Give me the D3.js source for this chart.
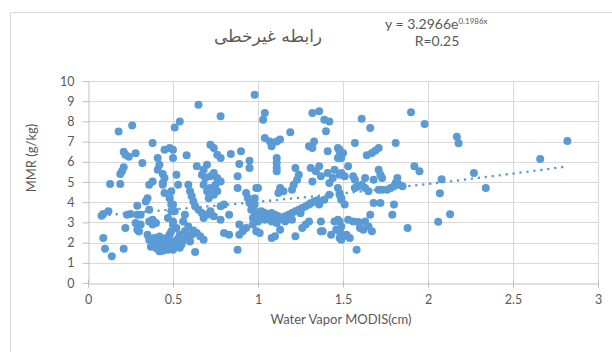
<!DOCTYPE html>
<html>
<head>
<meta charset="utf-8">
<script src="https://cdn.jsdelivr.net/npm/d3@7"></script>
<style>
  body { margin: 0; background: #fff; }
  svg text { fill: #595959; font-family: Lato, "Open Sans", sans-serif; }
</style>
</head>
<body>
<svg id="chart" width="612" height="352"></svg>
<script>
var xTicks = [0, 0.5, 1, 1.5, 2, 2.5, 3];
var yTicks = [0, 1, 2, 3, 4, 5, 6, 7, 8, 9, 10];
var titleText = "رابطه غیرخطی";
var xTitle = "Water Vapor MODIS(cm)";
var yTitle = "MMR (g/kg)";
// exponential trendline shown on the chart
var trendA = 3.2966, trendB = 0.1986;
var trendLabel = "y = 3.2966e", trendPow = "0.1986x", rLabel = "R=0.25";

// [water vapor, mmr]
var samples = [
  // 0 - 0.5
  [0.09,3.42],[0.12,3.55],[0.08,3.33],[0.09,2.23],[0.10,1.70],[0.14,1.32],[0.21,1.70],
  [0.13,4.90],[0.19,4.90],[0.18,7.50],[0.26,7.80],[0.21,6.50],[0.22,6.35],[0.24,6.25],[0.28,6.42],[0.32,5.94],
  [0.21,5.73],[0.20,5.53],[0.19,5.40],[0.38,6.93],[0.38,5.03],[0.36,4.87],
  [0.41,6.19],[0.42,5.86],[0.41,5.61],[0.45,6.60],[0.48,6.68],[0.44,5.40],[0.44,4.95],
  [0.35,4.20],[0.36,3.63],[0.29,3.83],[0.29,3.38],[0.31,3.38],[0.23,3.38],[0.25,3.42],
  [0.28,2.97],[0.29,2.89],[0.31,2.89],[0.29,2.64],[0.30,2.55],[0.22,2.72],[0.38,2.89],[0.40,2.97],
  [0.36,2.14],[0.38,1.98],[0.40,1.73],[0.42,1.57],[0.44,2.06],[0.46,2.23],[0.48,1.90],[0.50,2.06],
  [0.39,2.23],[0.43,1.82],[0.47,1.65],[0.35,2.39],
  [0.40,2.10],[0.42,2.30],[0.45,1.85],[0.37,1.80],[0.48,2.40],[0.44,1.60],[0.41,1.95],
  [0.49,4.54],[0.48,4.20],[0.50,3.88],[0.49,3.55],[0.47,3.22],[0.50,2.89],[0.49,2.56],[0.45,4.46],
  [0.45,5.20],[0.44,4.87],[0.36,3.05],[0.38,3.13],[0.34,4.04],
  // 0.5 - 1
  [0.65,8.83],[0.78,8.25],[0.98,9.32],[0.51,7.70],[0.54,8.00],
  [0.50,6.60],[0.50,6.19],[0.58,6.32],[0.52,5.36],[0.53,4.87],[0.64,5.78],
  [0.72,6.85],[0.74,6.68],[0.76,6.35],[0.78,6.19],
  [0.70,5.86],[0.68,5.61],[0.67,5.36],[0.69,5.20],[0.72,5.28],[0.74,5.45],[0.76,5.20],[0.78,5.03],
  [0.75,4.87],[0.72,4.70],[0.70,4.54],[0.68,4.87],[0.76,4.54],[0.74,4.37],[0.71,4.20],
  [0.84,6.39],[0.90,6.52],[0.95,6.05],[0.89,5.89],[0.95,5.69],[0.88,5.28],[0.88,4.70],[0.99,4.70],
  [0.59,4.87],[0.60,4.54],[0.61,4.29],[0.62,4.04],[0.63,3.80],[0.65,3.63],[0.67,3.47],[0.68,3.22],
  [0.70,3.38],[0.72,3.55],[0.74,3.30],[0.78,3.13],[0.80,3.88],[0.78,3.80],[0.83,3.38],
  [0.93,4.46],[0.94,4.21],[0.95,3.96],[0.96,3.63],[0.97,3.22],
  [0.89,2.89],[0.93,2.72],[0.91,2.56],[0.80,2.48],[0.83,2.39],[0.89,2.39],[0.88,1.65],[0.63,1.53],
  [0.49,3.88],[0.51,3.55],[0.50,3.05],[0.52,2.72],[0.54,2.39],[0.57,2.56],[0.59,2.80],[0.56,3.05],
  [0.58,2.23],[0.61,2.39],[0.64,2.48],[0.66,2.31],[0.68,2.14],[0.52,1.98],[0.50,1.65],[0.55,1.90],[0.57,3.38],
  [0.53,2.20],[0.56,2.10],[0.60,2.05],[0.54,1.75],[0.62,2.60],
  // 1 - 1.5
  [1.04,8.42],[1.03,8.08],
  [1.04,7.18],[1.07,7.01],[1.08,6.77],[1.11,7.01],[1.13,7.10],[1.19,7.46],
  [1.11,6.19],[1.11,5.94],[1.11,5.69],[1.11,5.53],
  [1.32,8.42],[1.36,8.50],[1.39,8.08],[1.42,8.00],[1.40,7.51],
  [1.33,7.01],[1.30,6.77],[1.32,6.68],[1.41,6.52],[1.47,6.68],[1.48,6.52],[1.47,6.19],
  [1.22,5.69],[1.24,5.36],[1.23,5.11],[1.21,4.87],[1.20,4.62],
  [1.31,5.69],[1.34,5.53],[1.36,5.78],[1.37,5.28],[1.41,5.45],[1.45,5.61],[1.44,5.20],[1.48,5.36],
  [1.32,5.03],[1.42,4.95],[1.00,4.70],[1.13,4.70],[1.12,4.46],[1.15,4.54],
  [1.47,4.70],[1.48,4.46],[1.49,4.21],[1.42,4.37],[1.39,4.12],[1.36,3.88],
  [1.33,4.04],[1.30,3.88],[1.28,3.80],[1.26,3.71],[1.24,3.63],[1.22,3.55],[1.20,3.47],[1.18,3.38],
  [1.16,3.30],[1.14,3.22],[1.12,3.30],[1.10,3.38],[1.08,3.47],[1.06,3.38],[1.04,3.47],[1.02,3.55],
  [1.00,3.38],[0.98,3.30],[0.98,3.55],
  [1.00,3.05],[1.04,3.13],[1.08,3.05],[1.11,2.97],[1.16,3.05],[1.20,3.13],
  [1.02,3.25],[1.06,3.20],[1.13,3.15],[1.25,3.45],[1.31,3.95],[1.35,4.10],
  [0.99,2.56],[1.01,2.48],[1.08,2.23],[1.10,2.31],[1.13,2.64],[1.22,2.31],
  [1.26,2.72],[1.28,2.89],[1.30,3.05],[1.37,3.05],[1.37,2.56],
  [1.45,3.05],[1.47,3.13],[1.46,2.64],[1.48,2.56],[1.49,2.80],[1.43,2.39],[1.48,2.23],[1.50,2.31],[1.38,2.56],
  [0.98,4.20],[0.98,3.88],[0.98,3.22],[0.97,2.89],
  // 1.5 - 2
  [1.61,8.13],[1.66,7.67],[1.90,8.45],[1.98,7.87],[1.57,6.93],
  [1.64,6.32],[1.67,6.44],[1.69,6.55],[1.71,6.68],[1.81,6.93],
  [1.48,6.60],[1.50,6.44],[1.49,6.19],[1.53,5.78],[1.49,5.45],[1.51,5.28],
  [1.56,5.28],[1.57,5.11],[1.63,5.20],[1.68,5.11],[1.71,5.61],[1.72,5.36],[1.73,5.20],[1.82,5.20],[1.83,4.87],
  [1.57,4.70],[1.59,4.79],[1.61,4.87],[1.63,4.70],[1.65,4.54],
  [1.71,4.62],[1.73,4.62],[1.76,4.62],[1.78,4.70],[1.80,4.79],[1.85,4.79],[1.81,4.95],
  [1.92,5.78],[1.95,5.53],[1.48,4.37],[1.49,4.12],[1.51,3.88],
  [1.68,3.96],[1.72,3.96],[1.80,3.88],[1.79,3.38],
  [1.48,3.05],[1.53,3.13],[1.56,3.05],[1.59,3.02],
  [1.66,3.38],[1.63,3.05],[1.60,2.72],[1.62,2.64],[1.65,2.80],[1.67,2.56],
  [1.48,2.56],[1.50,2.31],[1.52,2.39],[1.54,2.23],[1.49,2.14],[1.58,1.65],[1.88,2.72],
  // 2 - 3
  [2.17,7.24],[2.18,6.92],[2.08,5.13],[2.07,4.44],[2.06,3.03],[2.13,3.40],
  [2.27,5.45],[2.34,4.70],[2.66,6.14],[2.82,7.03]
];

var svg = d3.select("#chart");
var x = d3.scaleLinear().domain([0, 3]).range([88, 598]);
var y = d3.scaleLinear().domain([0, 10]).range([283, 81]);

// outer chart frame
svg.append("rect")
  .attr("x", 10.5).attr("y", 12.5)
  .attr("width", 640).attr("height", 400)
  .attr("fill", "#fff")
  .attr("stroke", "#d9d9d9");

// gridlines
svg.append("g").selectAll("line.h")
  .data(yTicks.slice(1))
  .join("line")
  .attr("x1", x(0)).attr("x2", x(3))
  .attr("y1", function(d) { return Math.round(y(d)) + 0.5; })
  .attr("y2", function(d) { return Math.round(y(d)) + 0.5; })
  .attr("stroke", "#d9d9d9");

svg.append("g").selectAll("line.v")
  .data(xTicks.slice(1))
  .join("line")
  .attr("x1", function(d) { return Math.round(x(d)) + 0.5; })
  .attr("x2", function(d) { return Math.round(x(d)) + 0.5; })
  .attr("y1", y(0)).attr("y2", y(10))
  .attr("stroke", "#d9d9d9");

// axes
var yAxis = svg.append("g")
  .attr("transform", "translate(" + (x(0) + 0.5) + ",0)")
  .call(d3.axisLeft(y).tickValues(yTicks).tickSize(6).tickPadding(8).tickSizeOuter(0));

var xAxis = svg.append("g")
  .attr("transform", "translate(0," + (Math.round(y(0)) + 0.5) + ")")
  .call(d3.axisBottom(x).tickValues(xTicks).tickFormat(d3.format("")).tickSize(4).tickPadding(8).tickSizeOuter(0));
xAxis.selectAll(".tick line").attr("y1", -4);

[xAxis, yAxis].forEach(function(a) {
  a.select(".domain").attr("stroke", "#bfbfbf");
  a.selectAll(".tick line").attr("stroke", "#bfbfbf");
  a.selectAll(".tick text").style("font-size", "12.5px").attr("fill", "#595959");
});

// trendline
var xs = samples.map(function(d) { return d[0]; });
var xmin = d3.min(xs), xmax = d3.max(xs);
var trend = d3.range(xmin, xmax, 0.02).concat([xmax]).map(function(v) {
  return [v, trendA * Math.exp(trendB * v)];
});

// points
svg.append("g").selectAll("circle")
  .data(samples)
  .join("circle")
  .attr("cx", function(d) { return x(d[0]); })
  .attr("cy", function(d) { return y(d[1]); })
  .attr("r", 4)
  .attr("fill", "#5b9bd5");

svg.append("path")
  .datum(trend)
  .attr("d", d3.line().x(function(d) { return x(d[0]); }).y(function(d) { return y(d[1]); }))
  .attr("fill", "none")
  .attr("stroke", "#5b9bd5")
  .attr("stroke-width", 2.3)
  .attr("stroke-dasharray", "2.3,4.7");

// titles
svg.append("text")
  .attr("x", 268).attr("y", 42)
  .attr("text-anchor", "middle")
  .style("font-family", "'DejaVu Sans'")
  .style("font-size", "17px")
  .text(titleText);

var eq = svg.append("text")
  .attr("x", 385).attr("y", 29)
  .style("font-size", "14px");
eq.append("tspan").text(trendLabel);
eq.append("tspan").attr("dy", -5).style("font-size", "8px").text(trendPow);

svg.append("text")
  .attr("x", 437).attr("y", 46)
  .attr("text-anchor", "middle")
  .style("font-size", "14px")
  .text(rLabel);

svg.append("text")
  .attr("x", 341).attr("y", 324)
  .attr("text-anchor", "middle")
  .style("font-size", "13px")
  .text(xTitle);

svg.append("text")
  .attr("transform", "translate(36,158) rotate(-90)")
  .attr("text-anchor", "middle")
  .style("font-size", "13px")
  .text(yTitle);
</script>
</body>
</html>
